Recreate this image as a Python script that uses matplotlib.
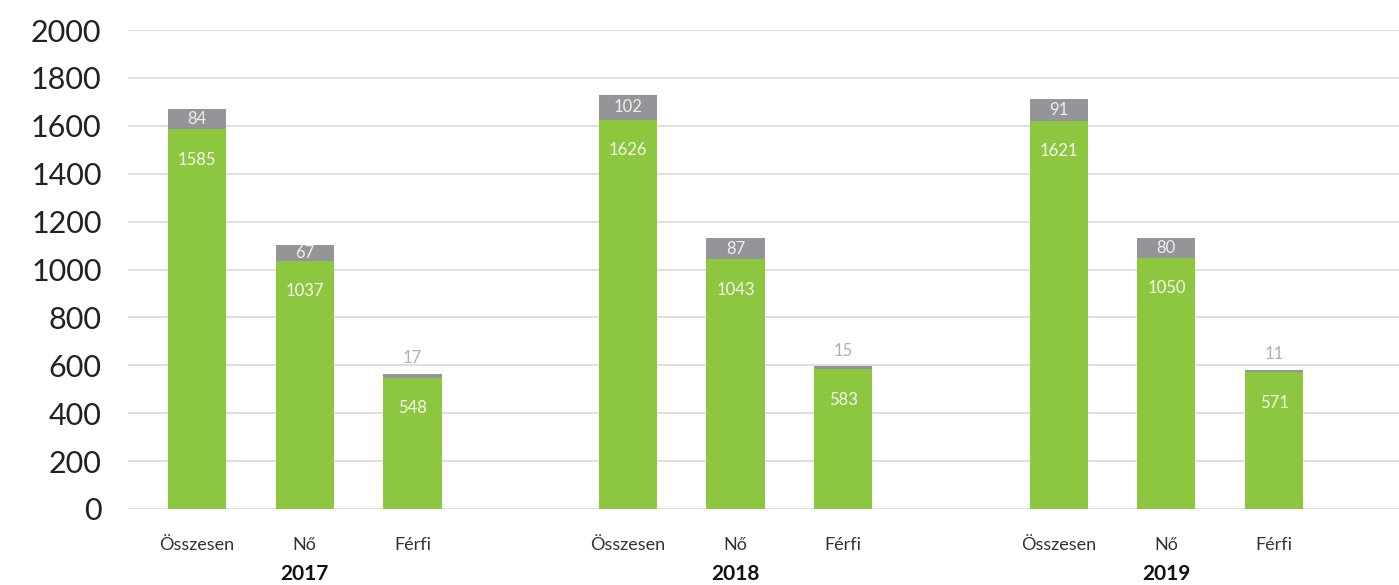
import matplotlib
matplotlib.use("Agg")
import matplotlib.pyplot as plt
import matplotlib.transforms as mtransforms

years = ["2017", "2018", "2019"]
categories = ["Összesen", "Nő", "Férfi"]
green_values = [[1585, 1037, 548], [1626, 1043, 583], [1621, 1050, 571]]
gray_values = [[84, 67, 17], [102, 87, 15], [91, 80, 11]]
y_ticks = [0, 200, 400, 600, 800, 1000, 1200, 1400, 1600, 1800, 2000]

GREEN = "#8dc63f"
GRAY = "#939598"
FONT = ["Lato", "DejaVu Sans"]

plt.rcParams["font.family"] = FONT

fig = plt.figure(figsize=(13.99, 5.85), dpi=100)
ax = fig.add_axes([128 / 1399, 76 / 585, 1 - 128 / 1399, (509 - 30) / 585])

positions = []
labels = []
for g, year in enumerate(years):
    for c, cat in enumerate(categories):
        positions.append(g * 4 + c)
        labels.append(cat)

width = 0.54
for g in range(len(years)):
    for c in range(len(categories)):
        x = g * 4 + c
        gv = green_values[g][c]
        yv = gray_values[g][c]
        ax.bar(x, gv, width=width, color=GREEN, zorder=3)
        ax.bar(x, yv, width=width, bottom=gv, color=GRAY, zorder=3)
        ax.annotate(str(gv), (x, gv), xytext=(0, -22), textcoords="offset points",
                    ha="center", va="center", color="#f4f9ee", fontsize=12,
                    fontweight="normal", zorder=4)
        if c < 2:
            ax.text(x, gv + yv / 2, str(yv), ha="center", va="center",
                    color="#eeeeee", fontsize=12, fontweight="normal", zorder=4)
        else:
            ax.annotate(str(yv), (x, gv + yv), xytext=(0, 11), textcoords="offset points",
                        ha="center", va="center", color="#b0b0b0", fontsize=12,
                        fontweight="normal", zorder=4)

ax.set_xlim(-0.641, 11.16)
ax.set_ylim(0, 2000)
ax.set_yticks(y_ticks)
ax.set_yticklabels([str(t) for t in y_ticks], fontsize=22, fontweight="normal", color="#222222")
ax.set_xticks(positions)
ax.set_xticklabels(labels, fontsize=13, fontweight="normal", color="#333333")
ax.tick_params(axis="y", length=0, pad=19)
ax.tick_params(axis="x", length=0, pad=20)
ax.grid(axis="y", color="#d9d9d9", linewidth=1.2, zorder=0)
ax.set_axisbelow(True)
for s in ax.spines.values():
    s.set_visible(False)

trans = mtransforms.blended_transform_factory(ax.transData, ax.transAxes)
for g, year in enumerate(years):
    ax.text(g * 4 + 1, -65 / 479, year, transform=trans, ha="center", va="center",
            fontsize=15, fontweight="bold", color="#111111")

fig.savefig("out.png", dpi=100)
